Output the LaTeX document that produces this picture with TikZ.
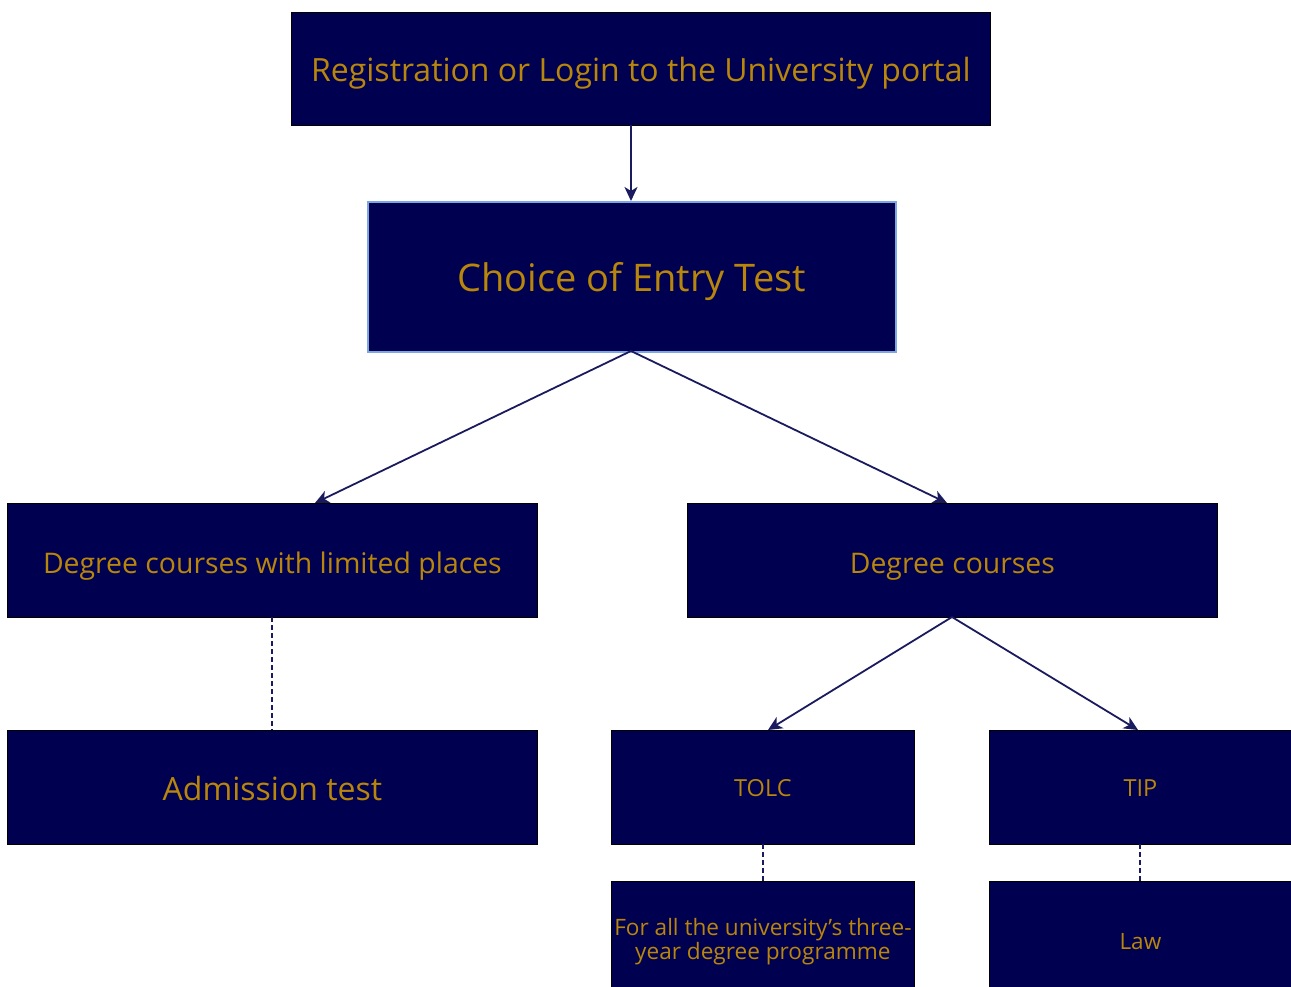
\documentclass[tikz,border=0pt]{standalone}
\usepackage{fontspec}
\setmainfont{Open Sans}
\usetikzlibrary{arrows.meta}
\definecolor{boxfill}{HTML}{000050}
\definecolor{txt}{HTML}{B8860B}
\definecolor{lnk}{HTML}{1A1A5E}
\definecolor{lblue}{HTML}{7EA6E0}
\newcommand{\shiftdn}[2]{\raisebox{-#1}[\height][\depth]{#2}}
\begin{document}
\begin{tikzpicture}[x=1pt,y=-1pt,
  box/.style={draw=black,line width=0.8pt,fill=boxfill,text=txt,inner sep=0pt,anchor=north west,align=center},
  arr/.style={draw=lnk,line width=1.8pt,-{Stealth[length=14pt,width=13pt,inset=4pt]}},
  dsh/.style={draw=lnk,line width=1.3pt,dash pattern=on 5pt off 3pt}]
\useasboundingbox (0,0) rectangle (1291,987);
\begin{scope}
\clip (0,0) rectangle (1291,987);
\node[box,minimum width=699pt,minimum height=113pt] (reg) at (291,12) {\shiftdn{4pt}{\fontsize{32}{38}\selectfont Registration or Login to the University portal}};
\node[box,draw=lblue,line width=1.6pt,minimum width=528pt,minimum height=150pt] (choice) at (367,201) {\shiftdn{5pt}{\fontsize{38}{45}\selectfont Choice of Entry Test}};
\node[box,minimum width=530pt,minimum height=114pt] (lim) at (7,503) {\shiftdn{6pt}{\fontsize{28.4}{34}\selectfont Degree courses with limited places}};
\node[box,minimum width=530pt,minimum height=114pt] (deg) at (687,503) {\shiftdn{6pt}{\fontsize{28.4}{34}\selectfont Degree courses}};
\node[box,minimum width=530pt,minimum height=114pt] (adm) at (7,730) {\shiftdn{1pt}{\fontsize{32}{38}\selectfont Admission test}};
\node[box,minimum width=303pt,minimum height=114pt] (tolc) at (611,730) {\shiftdn{1pt}{\fontsize{23.5}{28}\selectfont TOLC}};
\node[box,minimum width=310pt,minimum height=114pt] (tip) at (989,730) {\hspace*{-8pt}\shiftdn{1pt}{\fontsize{23.5}{28}\selectfont TIP}};
\node[box,minimum width=303pt,minimum height=120pt] (forall) at (611,881) {\fontsize{22.6}{27}\selectfont For all the university's three-\\\fontsize{22.6}{27}\selectfont year degree programme};
\node[box,minimum width=310pt,minimum height=120pt] (law) at (989,881) {\hspace*{-8pt}\fontsize{22.5}{27}\selectfont Law};
\end{scope}
\coordinate (r1) at (631,125);
\coordinate (c1) at (631,351);
\coordinate (d1) at (952,617);
\draw[arr] (r1) -- (choice.north west -| r1);
\draw[arr] (c1) -- (315,503);
\draw[arr] (c1) -- (947,503);
\draw[arr] (d1) -- (768,730);
\draw[arr] (d1) -- (1138,730);
\draw[dsh] (272,617) -- (272,730);
\draw[dsh] (763,844) -- (763,881);
\draw[dsh] (1140,844) -- (1140,881);
\end{tikzpicture}
\end{document}
